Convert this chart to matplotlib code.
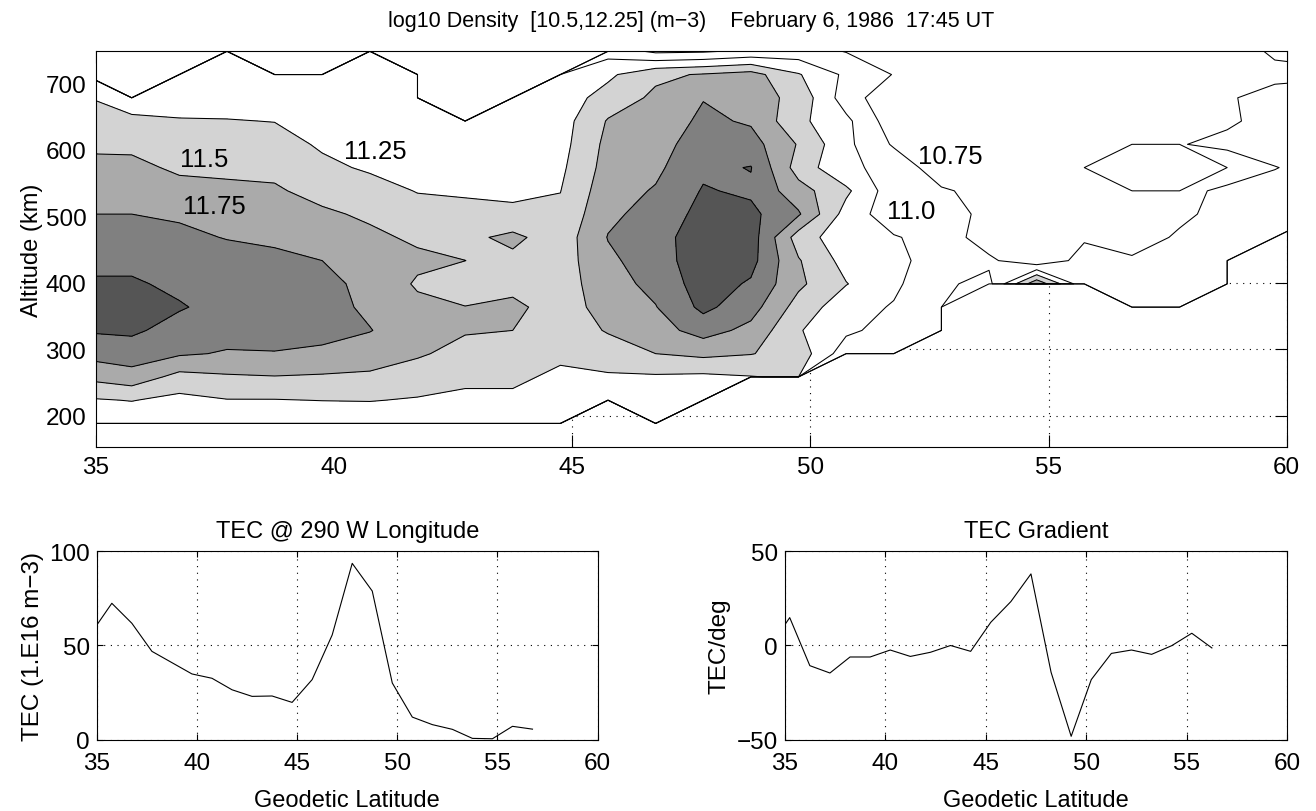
import numpy as np
import matplotlib
matplotlib.use("Agg")
import matplotlib.pyplot as plt

plt.rcParams["font.family"] = ["Liberation Sans", "DejaVu Sans"]
plt.rcParams["axes.linewidth"] = 0.8

# ===================== DATA =====================
N = np.nan

lat_grid = [34.75, 35.75, 36.75, 37.75, 38.75, 39.75, 40.75, 41.75, 42.75,
            43.75, 44.75, 45.75, 46.75, 47.75, 48.75, 49.75, 50.75, 51.75,
            52.75, 53.75, 54.75, 55.75, 56.75, 57.75, 58.75, 59.75, 60.75]

# altitude rows, top of the picture first
alt_grid = [748.5, 713.5, 678.5, 643.5, 608.5, 573.5, 538.5, 503.5, 468.5,
            433.5, 398.5, 363.5, 328.5, 293.5, 258.5, 223.5, 188.5, 153.5]

# log10 electron density, one row per altitude (NaN = no data)
log_density = [
    [11.1, N, N, 11.1, N, N, 11.1, N, N, N, N, 10.9, 10.7, 10.72, 10.8, 10.85, 10.74, 10.72, 10.68, 10.65, 10.63, 10.62, 10.62, 10.63, 10.65, 10.78, 10.8],
    [11.15, N, 11.1, 11.12, 11.12, 11.12, 11.1, 11.1, N, N, 11.1, 11.2, 11.45, 11.52, 11.6, 11.27, 10.95, 10.74, 10.68, 10.65, 10.63, 10.62, 10.62, 10.63, 10.64, 10.7, 10.72],
    [11.26, 11.15, 11.12, 11.15, 11.15, 11.15, 11.12, 11.12, N, 11.12, 11.12, 11.35, 11.55, 11.74, 11.62, 11.42, 10.87, 10.57, 10.6, 10.62, 10.63, 10.63, 10.63, 10.64, 10.73, 10.82, 10.84],
    [11.36, 11.29, 11.27, 11.26, 11.245, 11.18, 11.15, 11.15, 11.14, 11.14, 11.14, 11.52, 11.6, 11.8, 11.72, 11.31, 11.06, 10.6, 10.62, 10.63, 10.64, 10.64, 10.65, 10.68, 10.72, 10.82, 10.84],
    [11.46, 11.45, 11.36, 11.35, 11.34, 11.22, 11.2, 11.18, 11.16, 11.15, 11.16, 11.57, 11.65, 11.88, 11.85, 11.48, 11.06, 10.72, 10.64, 10.64, 10.65, 10.66, 10.68, 10.74, 10.8, 10.82, 10.84],
    [11.56, 11.56, 11.46, 11.45, 11.44, 11.3, 11.22, 11.2, 11.18, 11.17, 11.2, 11.6, 11.7, 11.95, 12.01, 11.39, 11.05, 10.92, 10.6, 10.62, 10.63, 10.64, N, N, 10.6, 10.745, 10.8],
    [11.66, 11.66, 11.58, 11.55, 11.53, 11.42, 11.34, 11.24, 11.22, 11.2, 11.245, 11.65, 11.77, 12.02, 11.96, 11.6, 11.3, 10.85, 10.78, 10.67, 10.64, 10.65, 10.66, 10.68, 10.8, 10.8, 10.82],
    [11.75, 11.75, 11.72, 11.64, 11.62, 11.54, 11.46, 11.34, 11.32, 11.3, 11.3, 11.7, 11.84, 12.08, 12.06, 11.78, 11.15, 10.85, 10.8, 10.72, 10.66, 10.66, 10.68, 10.72, 10.8, 10.8, 10.82],
    [11.84, 11.84, 11.8, 11.74, 11.71, 11.64, 11.55, 11.46, 11.44, 11.56, 11.36, 11.76, 11.9, 12.14, 12.12, 11.38, 11.09, 11.02, 10.9, 10.61, 10.62, 10.72, 10.68, 10.77, 10.82, 10.82, N],
    [11.94, 11.94, 11.87, 11.84, 11.8, 11.75, 11.62, 11.55, 11.501, 11.44, 11.38, 11.7, 11.88, 12.15, 12.08, 11.52, 11.16, 11.08, 10.86, 10.8, 10.55, 10.85, 10.77, 10.8, 10.8, N, N],
    [12.03, 12.03, 11.95, 11.92, 11.88, 11.82, 11.68, 11.47, 11.4, 11.42, 11.38, 11.65, 11.82, 12.12, 11.97, 11.55, 11.26, 11.05, 10.79, 10.68, 11.7, 10.8, 10.82, 10.82, 10.78, N, N],
    [12.1, 12.12, 12.02, 11.92, 11.9, 11.85, 11.7, 11.56, 11.505, 11.56, 11.38, 11.6, 11.74, 12.06, 11.85, 11.4, 11.1, 10.98, 10.9, N, N, N, 10.8, 10.8, N, N, N],
    [12.02, 12.04, 11.91, 11.84, 11.83, 11.8, 11.76, 11.6, 11.52, 11.5, 11.36, 11.52, 11.65, 11.85, 11.68, 11.27, 11.05, 10.9, 10.85, N, N, N, N, N, N, N, N],
    [11.82, 11.88, 11.78, 11.73, 11.74, 11.72, 11.62, 11.53, 11.42, 11.42, 11.3, 11.38, 11.5, 11.56, 11.51, 11.4, 10.85, 10.8, N, N, N, N, N, N, N, N, N],
    [11.55, 11.65, 11.42, 11.47, 11.49, 11.47, 11.46, 11.38, 11.3, 11.3, 11.2, 11.22, 11.22, 11.2, 11.24, 11.28, N, N, N, N, N, N, N, N, N, N, N],
    [11.22, 11.26, 11.18, 11.24, 11.24, 11.255, 11.26, 11.23, 11.2, 11.2, 11.12, 11.1, 11.12, 11.05, N, N, N, N, N, N, N, N, N, N, N, N, N],
    [11.05, 11.05, 11.05, 11.05, 11.05, 11.05, 11.08, 11.1, 11.1, 11.1, 11.05, N, 11.05, N, N, N, N, N, N, N, N, N, N, N, N, N, N],
    [N, N, N, N, N, N, N, N, N, N, N, N, N, N, N, N, N, N, N, N, N, N, N, N, N, N, N],
]

levels = [10.5, 10.75, 11.0, 11.25, 11.5, 11.75, 12.0, 12.25]
band_colors = ["white", "white", "white", "#d3d3d3", "#aaaaaa", "#808080", "#555555"]

label_text = ["11.5", "11.75", "11.25", "10.75", "11.0"]
label_lat = [37.27, 37.48, 40.86, 52.93, 52.11]
label_alt = [586, 516, 598, 591, 508]

tec_lat = [34.75, 35.75, 36.75, 37.75, 38.75, 39.75, 40.75, 41.75, 42.75, 43.75,
           44.75, 45.75, 46.75, 47.75, 48.75, 49.75, 50.75, 51.75, 52.75, 53.75,
           54.75, 55.75, 56.75]
tec = [57.0, 72.4, 61.8, 46.9, 40.9, 34.9, 32.6, 26.5, 23.0, 23.2,
       19.8, 31.9, 55.6, 93.6, 78.9, 30.1, 12.0, 8.0, 5.5, 0.7,
       0.5, 7.1, 5.6]

grad_lat = [34.25, 35.25, 36.25, 37.25, 38.25, 39.25, 40.25, 41.25, 42.25, 43.25,
            44.25, 45.25, 46.25, 47.25, 48.25, 49.25, 50.25, 51.25, 52.25, 53.25,
            54.25, 55.25, 56.25]
tec_grad = [-0.8, 14.8, -10.7, -14.6, -6.1, -6.1, -2.4, -5.8, -3.6, 0.0,
            -3.1, 12.3, 23.3, 38.0, -14.2, -48.2, -18.1, -4.2, -2.4, -4.7,
            -0.1, 6.5, -1.3]

FS = 17
GRID = dict(color="k", linestyle=(0, (1, 5)), linewidth=0.8)

# ===================== TOP: DENSITY CONTOURS =====================
z = np.array(log_density, dtype=float)[::-1]
alt = np.array(alt_grid)[::-1]
lat2, alt2 = np.meshgrid(lat_grid, alt)

# gaps get values far below the range so every level closes on the data edge;
# gaps west of 45 deg or high up are painted white, the rest stays open (grid shows)
gap = np.isnan(z)
blank_white = gap & ((lat2 < 45) | (alt2 > 530))
z = np.where(blank_white, -1.0e4, z)
z = np.where(np.isnan(z), -1.0e9, z)

fig = plt.figure(figsize=(13.16, 8.12), dpi=100)

ax = fig.add_axes([0.07295, 0.44865, 0.90479, 0.48695])
ax.set_axisbelow(True)
ax.grid(True, **GRID)
ax.contourf(lat_grid, alt, z, levels=[-2.0e4] + levels,
            colors=["white"] + band_colors, zorder=1)
ax.contour(lat_grid, alt, z, levels=levels, colors="k", linewidths=0.75, zorder=2)
for t, x, y in zip(label_text, label_lat, label_alt):
    ax.text(x, y, t, fontsize=18.5, ha="center", va="center", zorder=4)

ax.set_xlim(35, 60)
ax.set_ylim(153.5, 748.5)
ax.set_xticks([35, 40, 45, 50, 55, 60])
ax.set_yticks([200, 300, 400, 500, 600, 700])
ax.tick_params(direction="in", length=8.5, width=0.8, top=True, right=True,
               labelsize=FS + 0.5, pad=7)
for sp in ax.spines.values():
    sp.set_zorder(5)
ax.set_ylabel("Altitude (km)", fontsize=FS, labelpad=2)
ax.set_title("log10 Density  [10.5,12.25] (m\u22123)    February 6, 1986  17:45 UT",
             fontsize=15.5, pad=18)

# ===================== BOTTOM LEFT: TEC =====================
axl = fig.add_axes([0.07356, 0.08781, 0.38055, 0.23202])
axl.plot(tec_lat, tec, color="k", linewidth=0.8)
axl.set_xlim(35, 60)
axl.set_ylim(0, 100)
axl.set_xticks([35, 40, 45, 50, 55, 60])
axl.set_yticks([0, 50, 100])
axl.grid(True, **GRID)
axl.tick_params(direction="in", length=4, width=0.8, top=True, right=True,
                labelsize=FS + 0.5, pad=5)
axl.tick_params(axis="x", pad=9)
axl.set_title("TEC @ 290 W Longitude", fontsize=FS, pad=10)
axl.set_xlabel("Geodetic Latitude", fontsize=FS, labelpad=11)
axl.set_ylabel("TEC (1.E16 m\u22123)", fontsize=FS + 0.5, labelpad=4)

# ===================== BOTTOM RIGHT: TEC GRADIENT =====================
axr = fig.add_axes([0.59627, 0.08781, 0.38191, 0.23202])
axr.plot(grad_lat, tec_grad, color="k", linewidth=0.8)
axr.set_xlim(35, 60)
axr.set_ylim(-50, 50)
axr.set_xticks([35, 40, 45, 50, 55, 60])
axr.set_yticks([-50, 0, 50])
axr.grid(True, **GRID)
axr.tick_params(direction="in", length=4, width=0.8, top=True, right=True,
                labelsize=FS + 0.5, pad=5)
axr.tick_params(axis="x", pad=9)
axr.set_title("TEC Gradient", fontsize=FS, pad=10)
axr.set_xlabel("Geodetic Latitude", fontsize=FS, labelpad=11)
axr.set_ylabel("TEC/deg", fontsize=FS + 0.5, labelpad=4)

fig.savefig("out.png", dpi=100)
plt.close(fig)
